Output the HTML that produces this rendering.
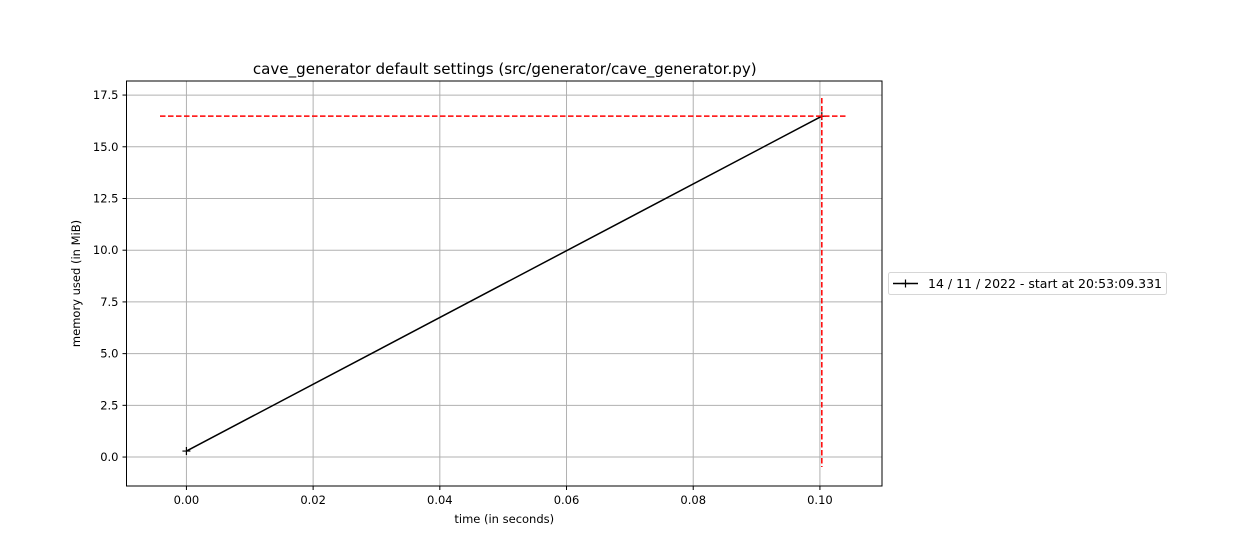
<!DOCTYPE html>
<html><head><meta charset="utf-8"><style>
body{margin:0;background:#fff;}
svg{display:block;font-family:"DejaVu Sans","Liberation Sans",sans-serif;}
</style></head><body>
<svg id="c" width="1260" height="540"></svg>
<script>
const xTickValues=[0,0.02,0.04,0.06,0.08,0.10];
const xTickLabels=["0.00","0.02","0.04","0.06","0.08","0.10"];
const yTickValues=[0,2.5,5,7.5,10,12.5,15,17.5];
const yTickLabels=["0.0","2.5","5.0","7.5","10.0","12.5","15.0","17.5"];
const timeValues=[0,0.1003];
const memoryValues=[0.29,16.48];
const peakMemory=16.48;
const peakTime=0.1003;

const L=126.5,R=882,T=81,B=486;
const x0=-0.00946,x1=0.1098,y0=-1.40,y1=18.18;
const sx=v=>L+(v-x0)/(x1-x0)*(R-L);
const sy=v=>B-(v-y0)/(y1-y0)*(B-T);
const svg=document.getElementById('c');
const NS='http://www.w3.org/2000/svg';
function mk(tag,attrs,parent){const e=document.createElementNS(NS,tag);for(const k in attrs)e.setAttribute(k,attrs[k]);(parent||svg).appendChild(e);return e;}

let t=mk('text',{x:(L+R)/2+0.5,y:74,'text-anchor':'middle','font-size':15.1,fill:'#000'});


t.textContent='cave_generator default settings (src/generator/cave_generator.py)';

xTickValues.forEach((v,i)=>{
  const X=sx(v);
  const g=mk('line',{x1:X,x2:X,y1:T,y2:B,stroke:'#b0b0b0','stroke-width':1});
  
  
  mk('line',{x1:X,x2:X,y1:B,y2:B+4,stroke:'#000'});
  const l=mk('text',{x:X,y:B+18,'text-anchor':'middle','font-size':11.5});
  
  
  l.textContent=xTickLabels[i];
});
yTickValues.forEach((v,i)=>{
  const Y=sy(v);
  const g=mk('line',{x1:L,x2:R,y1:Y,y2:Y,stroke:'#b0b0b0','stroke-width':1});
  
  
  mk('line',{x1:L-4,x2:L,y1:Y,y2:Y,stroke:'#000'});
  const l=mk('text',{x:L-8,y:Y+4,'text-anchor':'end','font-size':11.5});
  
  
  l.textContent=yTickLabels[i];
});

let pts=timeValues.map((v,i)=>sx(v)+','+sy(memoryValues[i])).join(' ');
let line=mk('polyline',{points:pts,fill:'none',stroke:'#000','stroke-width':1.5});


timeValues.forEach((v,i)=>{
  const X=sx(v),Y=sy(memoryValues[i]);
  const m=mk('path',{d:`M${X-4},${Y}H${X+4}M${X},${Y-4}V${Y+4}`,stroke:'#000','stroke-width':1.2});
  
  
});
let hx=sx(peakTime),hy=sy(peakMemory);
let hl=mk('line',{x1:160,x2:848,y1:hy,y2:hy,stroke:'#f00','stroke-width':1.5,'stroke-dasharray':'5.5,2.5'});


let vl=mk('line',{x1:hx,x2:hx,y1:98,y2:467,stroke:'#f00','stroke-width':1.5,'stroke-dasharray':'5.5,2.5'});



let fr=mk('rect',{x:L,y:T,width:R-L,height:B-T,fill:'none',stroke:'#000','stroke-width':1});



let xl=mk('text',{x:(L+R)/2,y:523,'text-anchor':'middle','font-size':11.5});


xl.textContent='time (in seconds)';
let yl=mk('text',{x:0,y:0,'text-anchor':'middle','font-size':11.5,transform:`translate(80,${(T+B)/2}) rotate(-90)`});


yl.textContent='memory used (in MiB)';

let lg=mk('g',{});


mk('rect',{x:888.5,y:272.5,width:278,height:22,rx:2,fill:'#fff',stroke:'#d6d6d6'},lg);
mk('line',{x1:893,x2:918,y1:283.5,y2:283.5,stroke:'#000','stroke-width':1.5},lg);
mk('path',{d:'M901.5,283.5H909.5M905.5,279.5V287.5',stroke:'#000','stroke-width':1.2},lg);
let lt=mk('text',{x:928,y:288,'font-size':12.5},lg);


lt.textContent='14 / 11 / 2022 - start at 20:53:09.331';
</script>
</body></html>
